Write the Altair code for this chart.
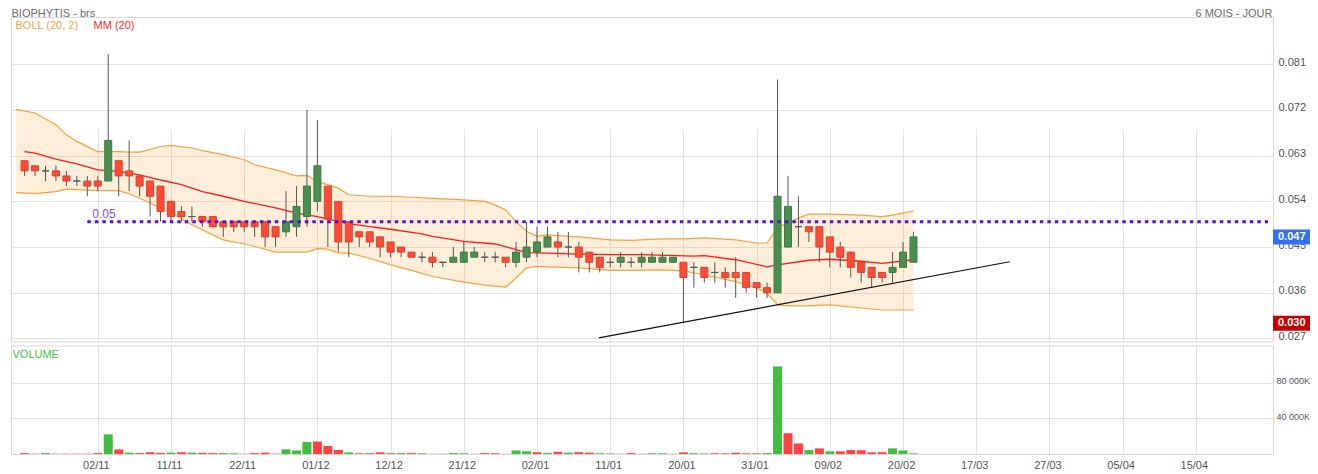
import altair as alt
import pandas as pd

# ---------------- data ----------------
idx = list(range(86))
opens = [.062, .061, .060, .060, .059, .058, .058, .058, .058, .062,
         .060, .059, .058, .057, .054, .052, .051, .051, .051, .050,
         .050, .050, .050, .050, .049, .048, .049, .051, .054, .057,
         .054, .050, .048, .048, .047, .046, .045, .044, .043, .043,
         .042, .042, .042, .043, .043, .043, .043, .042, .043, .044,
         .045, .046, .045, .045, .044, .043, .042, .042, .042, .042,
         .042, .042, .042, .042, .041, .041, .040, .040, .040, .040,
         .038, .037, .036, .045, .049, .049, .049, .047, .045, .044,
         .042, .041, .040, .040, .041, .042]
highs = [.062, .061, .061, .061, .060, .059, .059, .059, .083, .062,
         .066, .059, .058, .057, .054, .053, .053, .051, .051, .050,
         .050, .050, .050, .050, .049, .056, .057, .072, .070, .057,
         .054, .050, .048, .048, .047, .046, .045, .044, .044, .044,
         .042, .045, .046, .045, .044, .044, .043, .046, .050, .049,
         .049, .048, .048, .046, .044, .043, .043, .044, .043, .044,
         .044, .044, .043, .042, .042, .041, .042, .041, .043, .040,
         .038, .038, .078, .059, .055, .049, .049, .047, .046, .044,
         .042, .041, .040, .044, .046, .048]
lows = [.059, .059, .058, .058, .057, .057, .055, .056, .058, .055,
        .056, .055, .051, .050, .050, .050, .050, .049, .049, .047,
        .048, .048, .047, .045, .045, .047, .047, .049, .052, .045,
        .044, .043, .045, .045, .043, .043, .043, .043, .042, .041,
        .041, .042, .042, .043, .042, .042, .041, .041, .042, .043,
        .045, .043, .043, .040, .040, .040, .041, .041, .041, .041,
        .042, .042, .042, .030, .037, .038, .038, .037, .035, .036,
        .035, .035, .036, .045, .045, .046, .042, .041, .041, .039,
        .038, .037, .038, .038, .041, .042]
closes = [.060, .060, .060, .059, .058, .058, .057, .057, .066, .059,
          .059, .057, .055, .052, .051, .051, .051, .050, .049, .049,
          .049, .049, .049, .047, .047, .050, .053, .057, .061, .0505,
          .046, .046, .047, .046, .045, .044, .044, .043, .043, .042,
          .042, .043, .044, .044, .043, .043, .042, .044, .045, .046,
          .047, .045, .045, .043, .042, .041, .042, .043, .042, .043,
          .043, .043, .043, .039, .041, .039, .040, .039, .039, .037,
          .037, .036, .055, .053, .049, .048, .045, .044, .043, .041,
          .040, .039, .039, .041, .044, .047]

volumes = [1000, 800, 1000, 800, 800, 800, 800, 1000, 22000, 5200,
           1500, 1000, 2000, 1200, 1500, 2000, 1500, 1200, 1000, 1000,
           800, 500, 1000, 1500, 800, 5200, 4000, 13500, 14000, 9000,
           4500, 1800, 800, 800, 2000, 800, 1000, 1000, 800, 500,
           500, 1000, 800, 500, 1000, 800, 500, 4000, 3000, 2000,
           1000, 2500, 1500, 2000, 1500, 800, 600, 500, 1000, 500,
           800, 800, 500, 1800, 800, 600, 800, 700, 1400, 700,
           700, 1000, 98000, 23300, 11800, 4400, 6300, 3000, 3000, 4400,
           4200, 1800, 2000, 6300, 4000, 700]
vol_dir = ['d', 'l', 'u', 'l', 'l', 'l', 'l', 'd', 'u', 'd',
           'u', 'd', 'd', 'd', 'u', 'd', 'u', 'd', 'd', 'u',
           'u', 'l', 'd', 'd', 'l', 'u', 'u', 'u', 'd', 'd',
           'd', 'u', 'd', 'd', 'd', 'd', 'u', 'd', 'u', 'l',
           'l', 'u', 'u', 'l', 'd', 'd', 'l', 'u', 'u', 'd',
           'u', 'd', 'u', 'd', 'd', 'u', 'u', 'l', 'd', 'l',
           'u', 'u', 'l', 'd', 'u', 'u', 'd', 'd', 'd', 'd',
           'd', 'u', 'u', 'd', 'd', 'u', 'd', 'u', 'd', 'd',
           'd', 'd', 'd', 'u', 'u', 'u']

band_idx = [-0.8, 1, 3, 4, 5, 7, 9, 10, 11, 13, 14, 16, 17, 18, 19, 21, 22, 24,
            26, 27, 28, 29, 30, 31, 33, 35, 37, 39, 42, 44, 45, 46, 47, 48, 49,
            50, 53, 56, 58, 61, 63, 65, 68, 70, 71, 72, 73, 74, 75, 77, 80, 82,
            83, 85]
band_upper = [.0721, .0714, .0691, .0671, .0658, .0638, .0638, .0637, .0637,
              .0648, .0650, .0645, .0640, .0636, .0632, .0622, .0612, .0602,
              .0590, .0591, .0579, .0573, .0566, .0553, .0550, .0550, .0548,
              .0546, .0543, .0540, .0533, .0523, .0500, .0481, .0471, .0474,
              .0470, .0464, .0463, .0466, .0466, .0468, .0464, .0458, .0458,
              .0488, .0498, .0507, .0515, .0515, .0513, .0510, .0513, .0521]
band_lower = [.0557, .0555, .0559, .0564, .0563, .0561, .0561, .0555, .0546,
              .0527, .0517, .0494, .0484, .0474, .0464, .0456, .0451, .0440,
              .0440, .0440, .0447, .0446, .0438, .0438, .0428, .0415, .0404,
              .0392, .0381, .0375, .0373, .0371, .0389, .0409, .0412, .0411,
              .0409, .0404, .0404, .0405, .0403, .0395, .0382, .0369, .0359,
              .0336, .0334, .0334, .0334, .0336, .0330, .0326, .0326, .0326]

ma_idx = [0, 1, 3, 5, 7, 9, 11, 13, 15, 17, 19, 21, 24, 26, 28, 29, 31, 33, 35,
          38, 39, 42, 45, 47, 48, 50, 53, 56, 59, 64, 65, 68, 71, 72, 75, 77,
          80, 82, 85]
ma_val = [.0638, .0635, .0623, .0614, .0602, .0599, .0592, .0582, .0573, .0559,
          .0550, .0540, .0527, .0517, .0510, .0505, .0496, .0490, .0485, .0476,
          .0471, .0461, .0456, .0445, .0439, .0438, .0436, .0435, .0435, .0432,
          .0433, .0425, .0411, .0415, .0424, .0426, .0422, .0418, .0425]

tick_idx = [7, 14, 21, 28, 35, 42, 49, 56, 63, 70, 77, 84, 91, 98, 105, 112]
tick_labels = ['02/11', '11/11', '22/11', '01/12', '12/12', '21/12', '02/01',
               '11/01', '20/01', '31/01', '09/02', '20/02', '17/03', '27/03',
               '05/04', '15/04']
price_ticks = [0.027, 0.036, 0.045, 0.054, 0.063, 0.072, 0.081]
vol_ticks = [40000, 80000]

resistance_level = 0.05
resistance_start = 6
trend_idx = [54.9, 94.2]
trend_val = [0.0271, 0.0421]
marker_values = [0.047, 0.030]
marker_labels = ['0.047', '0.030']
marker_colors = ['#3370ee', '#c40000']

# ---------------- layout / scales ----------------
X_DOMAIN = [-0.82, 118.9]
PRICE_DOMAIN = [0.0263, 0.0903]
VOL_DOMAIN = [0, 121000]
W, H1, H2, GAP = 1262, 325, 108, 4
H = H1 + GAP + H2
PAD_L, PAD_T = 3, 9
SVG_W, SVG_H = 1302, 462
FONT = 'Liberation Sans'
FRAME = '#d8d8d8'

candles = pd.DataFrame({'idx': idx, 'open': opens, 'high': highs,
                        'low': lows, 'close': closes})
candles['dir'] = ['up' if c > o else ('down' if c < o else 'flat')
                  for o, c in zip(opens, closes)]
vol_df = pd.DataFrame({'idx': idx, 'vol': volumes, 'vdir': vol_dir})
band_df = pd.DataFrame({'idx': band_idx, 'upper': band_upper, 'lower': band_lower})
ma_df = pd.DataFrame({'idx': ma_idx, 'ma': ma_val})
res_df = pd.DataFrame({'start': [resistance_start], 'end': [X_DOMAIN[1]],
                       'level': [resistance_level], 'label': ['0.05']})
trend_df = pd.DataFrame({'idx': trend_idx, 'val': trend_val})
mark_df = pd.DataFrame({'value': marker_values, 'label': marker_labels,
                        'col': marker_colors})

xscale = alt.Scale(domain=X_DOMAIN, nice=False, zero=False)
lab_expr = ('[' + ','.join("'%s'" % t for t in tick_labels) + '][indexof(['
            + ','.join(str(t) for t in tick_idx) + '], datum.value)]')
x_axis = alt.Axis(values=tick_idx, labelExpr=lab_expr, ticks=False,
                  domain=False, grid=True, title=None, labelPadding=5,
                  labelOffset=-2)
pscale = alt.Scale(domain=PRICE_DOMAIN, range=[H1, 0], nice=False, zero=False)
p_axis = alt.Axis(orient='right', values=price_ticks, format='.3f', ticks=False,
                  domain=False, grid=True, title=None, labelPadding=5,
                  labelOffset=-2)
vscale = alt.Scale(domain=VOL_DOMAIN, range=[H, H1 + GAP], nice=False, zero=False)
v_axis = alt.Axis(orient='right', values=vol_ticks, ticks=False, domain=False,
                  grid=True, title=None, labelPadding=3, labelOffset=-2,
                  labelFontSize=9,
                  labelExpr="format(datum.value/1000, 'd') + ' 000K'")


def X(f):
    return alt.X(f + ':Q', scale=xscale, axis=x_axis)


def YP(f):
    return alt.Y(f + ':Q', scale=pscale, axis=p_axis)


band_area = alt.Chart(band_df).mark_area(color='#f9a947', opacity=0.2, clip=True).encode(
    x=X('idx'), y=YP('upper'), y2='lower')
band_up = alt.Chart(band_df).mark_line(color='#f6a23c', strokeWidth=1.2, clip=True).encode(
    x=X('idx'), y=YP('upper'))
band_lo = alt.Chart(band_df).mark_line(color='#f6a23c', strokeWidth=1.2, clip=True).encode(
    x=X('idx'), y=YP('lower'))
ma_line = alt.Chart(ma_df).mark_line(color='#ff1a1a', strokeWidth=1.3).encode(
    x=X('idx'), y=YP('ma'))
wicks = alt.Chart(candles).mark_rule(color='#555555', strokeWidth=1).encode(
    x=X('idx'), y=YP('low'), y2='high')
bodies = alt.Chart(candles).mark_bar(size=7, strokeWidth=1).encode(
    x=X('idx'), y=YP('open'), y2='close',
    fill=alt.Fill('dir:N', scale=alt.Scale(domain=['up', 'down', 'flat'],
                                           range=['#4a8e50', '#ff4b33', '#555555']),
                  legend=None),
    stroke=alt.Stroke('dir:N', scale=alt.Scale(domain=['up', 'down', 'flat'],
                                               range=['#3d7a45', '#cf4634', '#555555']),
                      legend=None))
res_line = alt.Chart(res_df).mark_rule(color='#5a0fc8', strokeWidth=3,
                                       strokeDash=[3.5, 4]).encode(
    x=X('start'), x2='end', y=YP('level'))
res_text = alt.Chart(res_df).mark_text(align='left', baseline='middle', dx=5, dy=-8,
                                       color='#8d4de4', fontSize=12, font=FONT).encode(
    x=X('start'), y=YP('level'), text='label:N')
trend = alt.Chart(trend_df).mark_line(color='#111111', strokeWidth=1.2).encode(
    x=X('idx'), y=YP('val'))
boxes = alt.Chart(mark_df).mark_point(shape='M0,-1H6V1H0Z', size=225, filled=True,
                                      opacity=1, strokeWidth=0).encode(
    x=alt.value(W), y=YP('value'), color=alt.Color('col:N', scale=None))
box_text = alt.Chart(mark_df).mark_text(align='left', baseline='middle', color='white',
                                        fontWeight='bold', fontSize=11, font=FONT).encode(
    x=alt.value(W + 5), y=YP('value'), text='label:N')

price = alt.layer(band_area, band_up, band_lo, ma_line, wicks, bodies, res_line,
                  res_text, trend, boxes, box_text)

vol_bars = alt.Chart(vol_df).mark_bar(size=9).encode(
    x=X('idx'),
    y=alt.Y('vol:Q', scale=vscale, axis=v_axis),
    color=alt.Color('vdir:N', scale=alt.Scale(domain=['u', 'd', 'l'],
                                              range=['#41bd41', '#ff4242', '#ffb0b0']),
                    legend=None))


def label(txt, x, y, color, align='left', size=11, baseline='middle'):
    return alt.Chart(pd.DataFrame({'t': [txt]})).mark_text(
        align=align, baseline=baseline, color=color, fontSize=size, font=FONT).encode(
        text='t:N', x=alt.value(x), y=alt.value(y))


# gap between the price panel and the volume panel, with the two panel borders
gap_df = pd.DataFrame({'k': ['gap']})
gap_fill = alt.Chart(gap_df).mark_rect(color='white').encode(
    x=alt.value(-1), x2=alt.value(W + 1), y=alt.value(H1 + 0.5), y2=alt.value(H1 + GAP - 0.5))
gap_top = alt.Chart(gap_df).mark_rule(color=FRAME, strokeWidth=1).encode(
    x=alt.value(0), x2=alt.value(W), y=alt.value(H1))
gap_bot = alt.Chart(gap_df).mark_rule(color=FRAME, strokeWidth=1).encode(
    x=alt.value(0), x2=alt.value(W), y=alt.value(H1 + GAP))

title_l = label('BIOPHYTIS - brs', 0.5, -0.3, '#6e6e6e', baseline='alphabetic')
title_r = label('6 MOIS - JOUR', W - 0.5, -0.3, '#6e6e6e', align='right',
                baseline='alphabetic')
boll_t = label('BOLL (20, 2)', 4.5, 9, '#f5a43c')
mm_t = label('MM (20)', 82.5, 9, '#ff2a2a')
vol_t = label('VOLUME', 1.5, H1 + GAP + 9, '#45bf45')

volume = alt.layer(vol_bars, gap_fill, gap_top, gap_bot, title_l, title_r, boll_t,
                   mm_t, vol_t)

chart = alt.layer(price, volume).resolve_scale(y='independent').properties(
    width=W, height=H,
    autosize=alt.AutoSizeParams(type='none'),
    padding={'left': PAD_L, 'top': PAD_T, 'right': SVG_W - PAD_L - W,
             'bottom': SVG_H - PAD_T - H}
).configure_view(stroke=FRAME, strokeWidth=1).configure_axis(
    gridColor='#e2e2e2', gridWidth=1, labelColor='#555555', labelFont=FONT,
    labelFontSize=11)

chart.save('out.html', embed_options={'renderer': 'svg', 'actions': False})
